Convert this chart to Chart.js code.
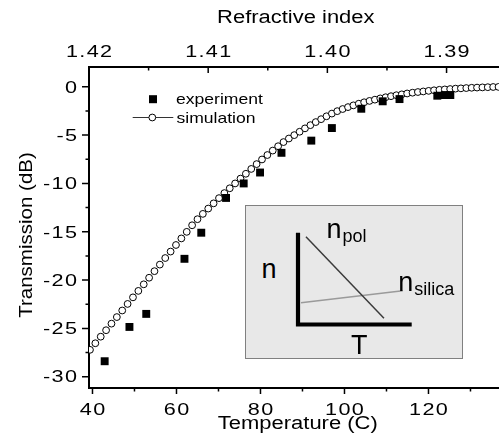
<!DOCTYPE html>
<html><head><meta charset="utf-8">
<script src="https://cdn.jsdelivr.net/npm/chart.js@4/dist/chart.umd.min.js"></script>
<style>
html,body{margin:0;padding:0;background:#fff;}
#wrap{position:relative;width:499px;height:445px;overflow:hidden;}
#main{position:absolute;left:0;top:0;}
#insetBox{position:absolute;left:245px;top:205px;width:216px;height:152px;background:#e8e8e8;border:1px solid #808080;}
#inset{position:absolute;left:288px;top:222px;}
.lab{position:absolute;font-family:"Liberation Sans",Arial,sans-serif;font-size:27px;line-height:27px;color:#000;white-space:nowrap;}
.lab sub{font-size:18px;line-height:18px;vertical-align:baseline;position:relative;top:4px;margin-left:1px;}
</style></head>
<body>
<div id="wrap">
  <canvas id="main" width="499" height="445"></canvas>
  <div id="insetBox"></div>
  <canvas id="inset" width="134" height="112"></canvas>
  <div class="lab" style="left:261.5px;top:256.4px;">n</div>
  <div class="lab" style="left:326.5px;top:216.4px;">n<sub>pol</sub></div>
  <div class="lab" style="left:398.2px;top:268.8px;">n<sub>silica</sub></div>
  <div class="lab" style="left:351px;top:332.1px;">T</div>
</div>
<script>
// ---- data ----
const expTemp = [42.9, 48.8, 52.8, 61.9, 65.9, 71.8, 76.0, 79.9, 85.0, 92.1, 97.0, 104.0, 109.1, 113.1, 122.1, 123.9, 125.2];
const expDB   = [-28.4, -24.85, -23.5, -17.8, -15.1, -11.5, -10.0, -8.87, -6.83, -5.57, -4.27, -2.27, -1.5, -1.27, -0.92, -0.85, -0.85];

const simTemp = [39.40, 40.68, 41.96, 43.24, 44.52, 45.80, 47.08, 48.36, 49.64, 50.92, 52.20, 53.48, 54.76, 56.04, 57.32, 58.60, 59.88, 61.16, 62.44, 63.72, 65.00, 66.28, 67.56, 68.84, 70.12, 71.40, 72.68, 73.96, 75.24, 76.52, 77.80, 79.08, 80.36, 81.64, 82.92, 84.20, 85.48, 86.76, 88.04, 89.32, 90.60, 91.88, 93.16, 94.44, 95.72, 97.00, 98.28, 99.56, 100.84, 102.12, 103.40, 104.68, 105.96, 107.24, 108.52, 109.80, 111.08, 112.36, 113.64, 114.92, 116.20, 117.48, 118.76, 120.04, 121.32, 122.60, 123.88, 125.16, 126.44, 127.72, 129.00, 130.28, 131.56, 132.84, 134.12, 135.40, 136.68];
const simDB   = [-27.22, -26.54, -25.86, -25.19, -24.51, -23.83, -23.15, -22.47, -21.79, -21.12, -20.44, -19.76, -19.08, -18.40, -17.72, -17.05, -16.37, -15.69, -15.01, -14.33, -13.70, -13.15, -12.60, -12.06, -11.52, -11.00, -10.50, -10.00, -9.50, -9.00, -8.50, -8.00, -7.52, -7.06, -6.60, -6.15, -5.72, -5.35, -5.00, -4.65, -4.30, -3.97, -3.65, -3.35, -3.05, -2.77, -2.52, -2.30, -2.10, -1.92, -1.75, -1.60, -1.46, -1.33, -1.20, -1.08, -0.97, -0.87, -0.78, -0.69, -0.61, -0.54, -0.48, -0.42, -0.36, -0.31, -0.27, -0.23, -0.19, -0.16, -0.13, -0.10, -0.08, -0.06, -0.04, -0.02, -0.01];

const tempTicks  = [40, 60, 80, 100, 120];
const tempMinor  = [50, 70, 90, 110, 130];
const riTicks    = [1.42, 1.41, 1.40, 1.39];
const riMinor    = [1.415, 1.405, 1.395];
const dbTicks    = [0, -5, -10, -15, -20, -25, -30];
const dbMinor    = [-2.5, -7.5, -12.5, -17.5, -22.5, -27.5];

const seriesLabels = ['experiment', 'simulation'];
const xTitle = 'Temperature (C)';
const x2Title = 'Refractive index';
const yTitle = 'Transmission (dB)';

// inset schematic (normalised axes 0..1)
const lAxisX  = [0, 0, 1];
const lAxisY  = [1, 0, 0];
const npolX   = [0.07, 0.756];
const npolY   = [0.956, 0.068];
const nsilX   = [0.026, 0.921];
const nsilY   = [0.237, 0.368];

// ---- chart ----
const FONT = '"Liberation Sans", Arial, sans-serif';

function pts(xs, ys){ return xs.map((x,i)=>({x:x, y:ys[i]})); }

// text drawn with a horizontal stretch (the reference uses wide glyphs)
function stretchedText(ctx, text, x, y, sx, ls, align){
  ctx.save();
  ctx.translate(x, y);
  ctx.scale(sx, 1);
  ctx.letterSpacing = ls + 'px';
  ctx.textAlign = align;
  let dx = 0;
  if (align === 'center') dx = ls / 2; else if (align === 'right') dx = ls;
  ctx.fillText(text, dx, 0);
  ctx.restore();
}

const framePlugin = {
  id: 'frame',
  afterDraw(chart){
    const ctx = chart.ctx, a = chart.chartArea, s = chart.scales;
    ctx.save();
    // tick marks (major / minor) through the scales
    ctx.strokeStyle = '#000';
    ctx.lineWidth = 1.5;
    ctx.beginPath();
    const vt = (scale, vals, y0, len) => vals.forEach(v => {
      const x = scale.getPixelForValue(v);
      ctx.moveTo(x, y0); ctx.lineTo(x, y0 + len);
    });
    const ht = (scale, vals, x0, len) => vals.forEach(v => {
      const y = scale.getPixelForValue(v);
      ctx.moveTo(x0, y); ctx.lineTo(x0 + len, y);
    });
    vt(s.x, tempTicks, a.bottom, 6);
    vt(s.x, tempMinor, a.bottom, 3.5);
    vt(s.x2, riTicks, a.top, 6);
    vt(s.x2, riMinor, a.top, 3.5);
    ht(s.y, dbTicks, a.left, -7);
    ht(s.y, dbMinor, a.left, -3.5);
    ctx.stroke();

    // tick labels from the scales' own ticks
    ctx.fillStyle = '#000';
    ctx.textBaseline = 'alphabetic';
    ctx.font = '16px ' + FONT;
    const SX = 1.35, LS = 1;
    s.x.ticks.forEach(t => stretchedText(ctx, t.label != null ? String(t.label) : String(t.value),
      s.x.getPixelForValue(t.value), a.bottom + 27, SX, LS, 'center'));
    s.x2.ticks.forEach(t => stretchedText(ctx, t.label != null ? String(t.label) : t.value.toFixed(2),
      s.x2.getPixelForValue(t.value), a.top - 9.7, SX, LS, 'center'));
    s.y.ticks.forEach(t => stretchedText(ctx, t.label != null ? String(t.label) : String(t.value),
      a.left - 12, s.y.getPixelForValue(t.value) + 5.8, SX, LS, 'right'));

    // axis titles
    ctx.font = '18px ' + FONT;
    stretchedText(ctx, x2Title, 295.8, 22.7, 1.22, 0, 'center');
    stretchedText(ctx, xTitle, 297.8, 429.3, 1.22, 0, 'center');
    ctx.save();
    ctx.translate(31.7, 235);
    ctx.rotate(-Math.PI/2);
    stretchedText(ctx, yTitle, 0, 0, 1.14, 0, 'center');
    ctx.restore();

    // legend
    ctx.font = '15px ' + FONT;
    ctx.fillRect(149, 95.2, 8, 8);
    stretchedText(ctx, seriesLabels[0], 176, 104, 1.17, 0, 'left');
    ctx.lineWidth = 1;
    ctx.strokeStyle = '#333';
    ctx.beginPath();
    ctx.moveTo(132.7, 117.5); ctx.lineTo(173.3, 117.5);
    ctx.stroke();
    ctx.beginPath();
    ctx.arc(152.3, 117.5, 3.4, 0, Math.PI*2);
    ctx.fillStyle = '#fff'; ctx.fill();
    ctx.strokeStyle = '#000'; ctx.stroke();
    ctx.fillStyle = '#000';
    stretchedText(ctx, seriesLabels[1], 176.5, 122.7, 1.17, 0, 'left');
    ctx.restore();
  }
};

const noGrid = {display: false, drawTicks: false, tickLength: 0};
const hiddenTicks = {display: false, autoSkip: false, maxRotation: 0};

new Chart(document.getElementById('main'), {
  type: 'scatter',
  data: {
    datasets: [
      { label: seriesLabels[0], data: pts(expTemp, expDB), showLine: false,
        pointStyle: 'rect', pointRadius: 5.6, pointBorderWidth: 0,
        pointBackgroundColor: '#000', borderColor: '#000', backgroundColor: '#000',
        clip: 0, xAxisID: 'x', yAxisID: 'y' },
      { label: seriesLabels[1], data: pts(simTemp, simDB), showLine: false,
        pointStyle: 'circle', pointRadius: 3.4, pointBorderWidth: 1,
        pointBackgroundColor: '#fff', pointBorderColor: '#000', borderColor: '#000',
        clip: 0, xAxisID: 'x', yAxisID: 'y' }
    ]
  },
  options: {
    responsive: false, animation: false, devicePixelRatio: 1,
    layout: { padding: 0, autoPadding: false },
    events: [],
    plugins: { legend: {display: false}, tooltip: {enabled: false}, title: {display: false} },
    scales: {
      x: { type: 'linear', position: 'bottom', min: 39.17, max: 136.79,
           grid: noGrid, border: {display: true, color: '#000', width: 2},
           ticks: Object.assign({callback: v => String(v)}, hiddenTicks),
           afterBuildTicks: sc => { sc.ticks = tempTicks.map(v => ({value: v})); },
           afterFit: sc => { sc.height = 57; } },
      x2: { type: 'linear', position: 'top', reverse: true, min: 1.3856, max: 1.42,
           grid: noGrid, border: {display: true, color: '#000', width: 2},
           ticks: Object.assign({callback: v => v.toFixed(2)}, hiddenTicks),
           afterBuildTicks: sc => { sc.ticks = riTicks.map(v => ({value: v})); },
           afterFit: sc => { sc.height = 67; } },
      y: { type: 'linear', position: 'left', min: -31.17, max: 2.05,
           grid: noGrid, border: {display: true, color: '#000', width: 2},
           ticks: Object.assign({callback: v => String(v)}, hiddenTicks),
           afterBuildTicks: sc => { sc.ticks = dbTicks.map(v => ({value: v})); },
           afterFit: sc => { sc.width = 89; } }
    }
  },
  plugins: [framePlugin]
});

// ---- inset schematic ----
new Chart(document.getElementById('inset'), {
  type: 'scatter',
  data: {
    datasets: [
      { data: pts(lAxisX, lAxisY), showLine: true, borderColor: '#000', borderWidth: 4.2,
        borderJoinStyle: 'miter', borderCapStyle: 'butt', pointRadius: 0, clip: false },
      { data: pts(npolX, npolY), showLine: true, borderColor: '#3a3a3a', borderWidth: 1.5,
        pointRadius: 0, clip: false },
      { data: pts(nsilX, nsilY), showLine: true, borderColor: '#9a9a9a', borderWidth: 1.5,
        pointRadius: 0, clip: false }
    ]
  },
  options: {
    responsive: false, animation: false, devicePixelRatio: 1, events: [],
    layout: { padding: {left: 10, right: 10.3, top: 10.7, bottom: 9.5}, autoPadding: false },
    plugins: { legend: {display: false}, tooltip: {enabled: false} },
    scales: {
      x: { type: 'linear', min: 0, max: 1, display: false },
      y: { type: 'linear', min: 0, max: 1, display: false }
    }
  }
});
</script>
</body></html>
